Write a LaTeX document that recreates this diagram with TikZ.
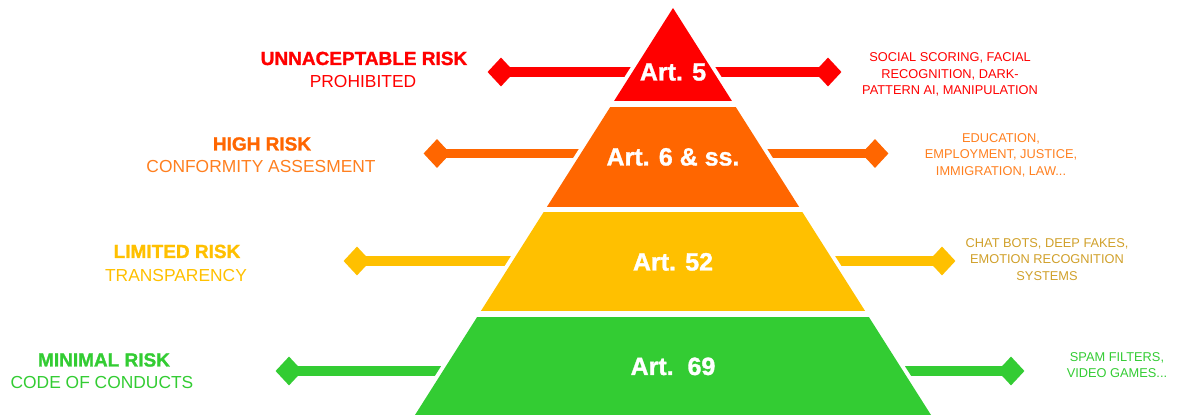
\documentclass[tikz,border=0pt]{standalone}
\usepackage{fontspec}
\setmainfont{Liberation Sans}
\newfontfamily\heavy[FakeBold=1.3]{Liberation Sans Bold}
\usetikzlibrary{shapes.geometric}
\definecolor{cred}{HTML}{FF0000}
\definecolor{corange}{HTML}{FF6600}
\definecolor{cyellow}{HTML}{FFC000}
\definecolor{cgreen}{HTML}{33CC33}
\definecolor{cgold}{HTML}{D0A02A}
\definecolor{corangetxt}{HTML}{FF7F1F}
\begin{document}
\begin{tikzpicture}[x=1pt,y=-1pt,
  knob/.style={diamond, inner sep=0pt, minimum width=27pt, minimum height=29pt, fill=#1},
  link/.style={line width=9.5pt, draw=#1},
  title/.style={font=\fontsize{19}{23}\selectfont\heavy, text=#1, anchor=base, inner sep=0pt},
  subt/.style={font=\fontsize{17.4}{20}\selectfont, text=#1, anchor=base, inner sep=0pt},
  info/.style={font=\fontsize{12.8}{16.5}\selectfont, text=#1, align=center, anchor=north, inner sep=0pt},
  art/.style={font=\fontsize{25}{28}\selectfont\heavy, text=white, anchor=base, inner sep=0pt}]
\useasboundingbox (0,0) rectangle (1178,419);

% connectors
\node[knob=cred] (rL) at (501,72) {};
\node[knob=cred] (rR) at (828,72) {};
\node[knob=corange] (oL) at (437,153.5) {};
\node[knob=corange] (oR) at (875,153.5) {};
\node[knob=cyellow] (yL) at (357,261) {};
\node[knob=cyellow] (yR) at (942,261) {};
\node[knob=cgreen] (gL) at (289,371) {};
\node[knob=cgreen] (gR) at (1011,371) {};
\draw[link=cred] (rL.center) -- (rR.center);
\draw[link=corange] (oL.center) -- (oR.center);
\draw[link=cyellow] (yL.center) -- (yR.center);
\draw[link=cgreen] (gL.center) -- (gR.center);

% pyramid halo
\draw[white, line width=8pt] (673,8) -- (931,415) -- (415,415) -- cycle;
% bands
\begin{scope}
  \clip (0,0) rectangle (1178,101);
  \fill[cred] (673,8) -- (931,415) -- (415,415) -- cycle;
\end{scope}
\begin{scope}
  \clip (0,108) rectangle (1178,207);
  \fill[corange] (673,8) -- (931,415) -- (415,415) -- cycle;
\end{scope}
\begin{scope}
  \clip (0,213) rectangle (1178,311);
  \fill[cyellow] (673,8) -- (931,415) -- (415,415) -- cycle;
\end{scope}
\begin{scope}
  \clip (0,318) rectangle (1178,415);
  \fill[cgreen] (673,8) -- (931,415) -- (415,415) -- cycle;
\end{scope}

% article labels
\node[art] (a5) at (673,80.5) {Art. 5};
\node[art] (a6) at (673,165.5) {Art. 6 \& ss.};
\node[art] (a52) at (673,270.5) {Art. 52};
\node[art] (a69) at (673,375) {Art.\ \ 69};

% left labels
\node[title=cred] (t1) at (364,65) {UNNACEPTABLE RISK};
\node[subt=cred] (s1) at (363,87.2) {PROHIBITED};
\node[title=corange] (t2) at (262,150.5) {HIGH RISK};
\node[subt=corangetxt] (s2) at (261,172.7) {CONFORMITY ASSESMENT};
\node[title=cyellow] (t3) at (177,258) {LIMITED RISK};
\node[subt=cyellow] (s3) at (176,281.2) {TRANSPARENCY};
\node[title=cgreen] (t4) at (104,366.5) {MINIMAL RISK};
\node[subt=cgreen] (s4) at (102,388.7) {CODE OF CONDUCTS};

% right labels
\node[info=cred] (i1) at (950,52.5) {SOCIAL SCORING, FACIAL\\RECOGNITION, DARK-\\PATTERN AI, MANIPULATION};
\node[info=corangetxt] (i2) at (1001,133) {EDUCATION,\\EMPLOYMENT, JUSTICE,\\IMMIGRATION, LAW...};
\node[info=cgold] (i3) at (1047,238) {CHAT BOTS, DEEP FAKES,\\EMOTION RECOGNITION\\SYSTEMS};
\node[info=cgreen] (i4) at (1117,352) {SPAM FILTERS,\\VIDEO GAMES...};
\end{tikzpicture}
\end{document}
